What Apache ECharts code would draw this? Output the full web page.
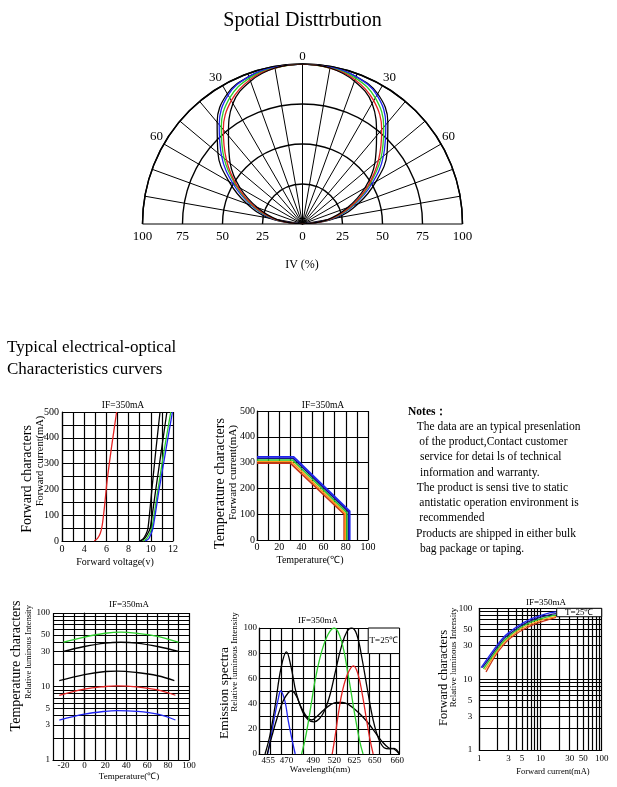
<!DOCTYPE html>
<html><head><meta charset="utf-8">
<script src="https://cdn.jsdelivr.net/npm/echarts@6/dist/echarts.min.js"></script>
<style>html,body{margin:0;padding:0;background:#fff}#c{width:617px;height:787px}</style>
</head><body><div id="c"></div>
<script>
const SERIF = '"Liberation Serif","Times New Roman",serif';

// ---------- Spatial distribution (polar): angle (deg) vs IV (%) ----------
const polarAngles  = [-90,-80,-70,-60,-50,-40,-30,-20,-10,0,10,20,30,40,50,60,70,80,90];
const ivBlackOuter = [0,21,37,53,69,83,94,98,99.5,100,99.5,98,94,83,69,53,37,21,0];
const ivBlue       = [0,19,34,50,66,81,93,98,99.5,100,99.5,98,93,81,66,50,34,19,0];
const ivGreen      = [0,18,33,48,64,79,91,97,99,100,99,97,91,79,64,48,33,18,0];
const ivRed        = [0,17,32,47,62,77,89,96,99,100,99,96,89,77,62,47,32,17,0];
const ivBlackInner = [0,16,30,45,59,72,87,95,99,100,99,95,87,72,59,45,30,16,0];

// ---------- Forward characters: voltage (V) vs current (mA) ----------
const fvRed    = [[4.9,0],[5.2,10],[5.45,30],[5.62,60],[5.82,130],[6.08,240],[6.45,360],[6.92,500]];
const fvBlack1 = [[9.0,0],[9.3,8],[9.55,25],[9.75,50],[10.1,200],[10.45,350],[10.83,500]];
const fvBlack2 = [[9.1,0],[9.45,10],[9.72,28],[9.95,50],[10.45,200],[10.95,350],[11.45,500]];
const fvGreen  = [[9.3,0],[9.6,8],[9.85,25],[10.1,50],[10.65,200],[11.2,350],[11.8,500]];
const fvBlue   = [[9.5,0],[9.8,8],[10.0,25],[10.2,50],[10.75,200],[11.35,350],[11.95,500]];

// ---------- Temperature characters: temperature vs forward current ----------
const tdBlue   = [[0,322],[33,322],[83.5,112],[83.5,0]];
const tdNavy   = [[0,317],[32.5,317],[82.5,109],[82.5,0]];
const tdGreen  = [[0,310],[32,310],[81,106],[81,0]];
const tdOrange = [[0,304],[31,304],[79.5,103],[79.5,0]];
const tdRed    = [[0,298],[30,298],[78.5,100],[78.5,0]];

// ---------- Temperature characters: temperature vs relative intensity ----------
const tlGreen   = [[-20,40],[0,47],[20,53],[35,55],[50,53],[70,48],[90,40]];
const tlBlackHi = [[-20,30],[0,35],[20,39],[35,40],[50,39],[70,35],[90,30]];
const tlBlackLo = [[-24,12],[0,14.5],[20,16],[31,16.2],[50,15.5],[70,14],[86,12]];
const tlRed     = [[-24,7.6],[0,9.2],[20,10],[31,10.2],[50,9.9],[70,9],[87,7.6]];
const tlBlue    = [[-24,3.5],[0,4.2],[20,4.6],[31,4.7],[50,4.6],[70,4.2],[87,3.5]];

// ---------- Emission spectra (x in grid-cell units, labelled by wavelength) ----------
const esTickPos  = [0.85, 2.5, 4.94, 6.85, 8.67, 10.55, 12.6];
const esTickText = ['455','470','490','520','625','650','660'];
const esBlue   = [[0.79,0],[1.1,14],[1.45,31],[1.76,44],[1.97,50],[2.36,42],[2.67,26],[2.97,13],[3.3,0]];
const esBlackA = [[0.55,0],[1.0,15],[1.5,40],[2.0,68],[2.5,81],[2.9,70],[3.4,48],[4.0,33],[4.5,27],[5.0,25.5],[5.5,28],[6.0,35],[6.5,48],[7.0,67],[7.5,85],[8.0,97],[8.45,100],[8.9,95],[9.4,75],[9.9,50],[10.4,27],[10.9,12],[11.4,5],[11.9,4],[12.3,4.5],[12.8,0]];
const esBlackB = [[0.75,0],[1.2,15],[1.7,30],[2.2,42],[2.7,49],[3.0,50],[3.4,46],[3.9,36],[4.4,29],[4.8,27],[5.3,30],[5.9,35],[6.5,39],[7.1,41],[7.6,41],[8.2,39],[8.8,35],[9.4,30],[10.0,24],[10.6,17],[11.2,10],[11.8,5],[12.3,4],[12.8,0]];
const esGreen  = [[3.88,0],[4.3,16],[4.8,42],[5.1,58],[5.7,81],[6.3,95],[6.85,100],[7.5,90],[8.12,63],[8.73,31],[9.18,10],[9.48,0]];
const esRed    = [[6.67,0],[6.95,15],[7.25,33],[7.6,50],[8.1,64],[8.6,70],[9.0,64],[9.4,48],[9.8,27],[10.1,12],[10.4,0]];

// ---------- Forward characters: forward current (mA) vs relative intensity ----------
const fiBlue   = [[1.07,14.5],[1.5,22],[2,31],[2.5,39],[3,45],[4,54],[5,61],[7,71],[10,79],[14,86],[18,89]];
const fiNavy   = [[1.12,14.5],[1.5,20.5],[2,29],[2.5,37],[3,42.5],[4,51],[5,58],[7,67],[10,75],[14,81],[18,84]];
const fiGreen  = [[1.17,14],[1.5,19],[2,27],[2.5,34.5],[3,40],[4,48.5],[5,55],[7,64],[10,71],[14,77],[18,80]];
const fiOrange = [[1.23,13.5],[1.5,17.5],[2,25.5],[2.5,32.5],[3,38],[4,46],[5,52],[7,60],[10,67.5],[14,73],[18,77]];
const fiRed    = [[1.29,12.6],[1.5,16],[2,24],[2.5,30.5],[3,36],[4,43.5],[5,49],[7,57],[10,64],[14,70],[18,74.5]];

// log grid lines and labelled values
const logGrid   = [1,2,3,4,5,6,7,8,9,10,20,30,40,50,60,70,80,90,100];
const logLabels = [1,3,5,10,30,50,100];

const notesLines = [
  ['Notes：', 408, true],
  ['The data are an typical presenlation', 416.7],
  ['of the product,Contact customer', 419.3],
  ['service for detai ls of technical', 420],
  ['information and warranty.', 420],
  ['The product is sensi tive to static', 416.7],
  ['antistatic operation environment is', 419.3],
  ['recommended', 419.3],
  ['Products are shipped in either bulk', 416],
  ['bag package or taping.', 420]
];

// ================= build option =================
const LW = 1.2;
const gridLine = {show:true, lineStyle:{color:'#000', width:LW}};
const axLine = {show:true, lineStyle:{color:'#000', width:LW}};
const noTick = {show:false};
function lbl(size, margin, fmt, extra){
  const o = {color:'#000', fontFamily:SERIF, fontSize:size, margin:margin};
  if (fmt) o.formatter = fmt;
  return Object.assign(o, extra||{});
}

function logLines(items, labelOpt){
  return {
    silent:true, symbol:'none', animation:false, z:1,
    lineStyle:{color:'#000', width:LW, type:'solid'},
    emphasis:{disabled:true},
    label:{show:false},
    data: items.map(function(it){
      const key = it[0], v = it[1];
      const o = {}; o[key] = v;
      o.label = logLabels.indexOf(v) >= 0
        ? Object.assign({show:true, position:'start', formatter:String(v), color:'#000', fontFamily:SERIF}, labelOpt[key])
        : {show:false};
      return o;
    })
  };
}

// legend box drawn through the axes' own scales
function legendBox(idx, corners, text){
  return {type:'custom', xAxisIndex:idx, yAxisIndex:idx, z:4, silent:true,
    data:[corners], encode:{x:[0,2], y:[1,3]},
    renderItem: function(params, api){
      const p0 = api.coord([api.value(0), api.value(1)]);
      const p1 = api.coord([api.value(2), api.value(3)]);
      const x = Math.min(p0[0],p1[0]), y = Math.min(p0[1],p1[1]);
      const w = Math.abs(p1[0]-p0[0]), h = Math.abs(p1[1]-p0[1]);
      return {type:'group', children:[
        {type:'rect', shape:{x:x, y:y, width:w, height:h}, style:{fill:'#fff', stroke:'#000', lineWidth:1}},
        {type:'text', x:x+w/2, y:y+h/2, style:{text:text, fill:'#000', font:'9px '+SERIF, align:'center', verticalAlign:'middle'}}
      ]};
    }};
}

const grids = [
  {left:62, top:412, width:111, height:129},
  {left:257, top:411, width:111, height:129},
  {left:53, top:613, width:136, height:147},
  {left:259, top:628, width:140.5, height:126},
  {left:479.3, top:608.3, width:122.4, height:141.7},
  {left:142.5, top:200, width:320, height:24}
].map(g => Object.assign({outerBoundsMode:'none', containLabel:false}, g));

const xAxes = [
  {gridIndex:0, type:'value', min:2, max:12, interval:1, axisLine:axLine, axisTick:noTick, splitLine:gridLine,
   axisLabel: lbl(10, 3, v => v===2 ? '0' : (v%2===0 ? String(v) : ''))},
  {gridIndex:1, type:'value', min:0, max:100, interval:10, axisLine:axLine, axisTick:noTick, splitLine:gridLine,
   axisLabel: lbl(10, 2, v => v%20===0 ? String(v) : '')},
  {gridIndex:2, type:'value', min:-30, max:100, interval:10, axisLine:axLine, axisTick:noTick, splitLine:gridLine,
   axisLabel: lbl(9, 1, v => v%20===0 ? String(v) : '')},
  {gridIndex:3, type:'value', min:0, max:12.8, interval:1, axisLine:axLine, axisTick:noTick, splitLine:gridLine,
   axisLabel: lbl(9, 2, v => { const i = esTickPos.indexOf(v); return i>=0 ? esTickText[i] : ''; }, {customValues: esTickPos})},
  {gridIndex:4, type:'log', logBase:10, min:1, max:100, axisLine:axLine, axisTick:noTick, splitLine:{show:false}, axisLabel:{show:false}},
  {gridIndex:5, type:'value', min:-100, max:100, interval:25, axisLine:{show:false}, axisTick:noTick, splitLine:{show:false},
   axisLabel: lbl(13, 6, v => String(Math.abs(v)))}
];
const yAxes = [
  {gridIndex:0, type:'value', min:0, max:500, interval:50, axisLine:axLine, axisTick:noTick, splitLine:gridLine,
   axisLabel: lbl(10, 3, v => v%100===0 ? String(v) : '')},
  {gridIndex:1, type:'value', min:0, max:500, interval:100, axisLine:axLine, axisTick:noTick, splitLine:gridLine,
   axisLabel: lbl(10, 2)},
  {gridIndex:2, type:'log', logBase:10, min:1, max:100, axisLine:axLine, axisTick:noTick, splitLine:{show:false}, axisLabel:{show:false}},
  {gridIndex:3, type:'value', min:0, max:100, interval:10, axisLine:axLine, axisTick:noTick, splitLine:gridLine,
   axisLabel: lbl(9, 2, v => v%20===0 ? String(v) : '')},
  {gridIndex:4, type:'log', logBase:10, min:1, max:100, axisLine:axLine, axisTick:noTick, splitLine:{show:false}, axisLabel:{show:false}},
  {gridIndex:5, type:'value', show:false, min:0, max:1}
];

function ln(idx, data, color, smooth, width){
  return {type:'line', xAxisIndex:idx, yAxisIndex:idx, data:data, smooth:smooth, showSymbol:false, symbol:'none', z:3,
    silent:true, lineStyle:{color:color, width:width||1.3}, itemStyle:{color:color}};
}
function pl(vals, color){
  return {type:'line', coordinateSystem:'polar', data: polarAngles.map((a,i)=>[vals[i], a]), smooth:0.4,
    showSymbol:false, symbol:'none', silent:true, z:3, lineStyle:{color:color, width:1.3}, itemStyle:{color:color}};
}

const BLUE='#1f24f0', GREEN='#2bcc2b', RED='#e32222', BLACK='#000', NAVY='#17177e', ORANGE='#ff9a1a';

const series = [
  pl(ivBlackOuter, BLACK), pl(ivBlue, BLUE), pl(ivGreen, GREEN), pl(ivRed, RED), pl(ivBlackInner, BLACK),

  ln(0, fvRed, RED, 0.2), ln(0, fvBlack1, BLACK, 0.2), ln(0, fvBlack2, BLACK, 0.2), ln(0, fvGreen, GREEN, 0.2), ln(0, fvBlue, BLUE, 0.2),

  ln(1, tdRed, '#c8321a', false, 1.6), ln(1, tdOrange, ORANGE, false, 1.6), ln(1, tdGreen, GREEN, false, 1.6), ln(1, tdNavy, NAVY, false, 1.6), ln(1, tdBlue, BLUE, false, 1.8),

  {type:'line', xAxisIndex:2, yAxisIndex:2, data:[], z:1, silent:true,
   markLine: logLines(logGrid.map(v=>['yAxis',v]), {yAxis:{fontSize:9, distance:3}})},
  ln(2, tlGreen, GREEN, 0.4), ln(2, tlBlackHi, BLACK, 0.4), ln(2, tlBlackLo, BLACK, 0.4), ln(2, tlRed, RED, 0.4), ln(2, tlBlue, BLUE, 0.4),

  legendBox(3, [9.95, 79.7, 12.8, 100], 'T=25℃'),
  ln(3, esBlue, BLUE, 0.4), ln(3, esBlackA, BLACK, 0.4), ln(3, esBlackB, BLACK, 0.4), ln(3, esGreen, GREEN, 0.4), ln(3, esRed, RED, 0.4),

  {type:'line', xAxisIndex:4, yAxisIndex:4, data:[], z:1, silent:true,
   markLine: logLines(logGrid.map(v=>['xAxis',v]).concat(logGrid.map(v=>['yAxis',v])),
     {xAxis:{fontSize:9, distance:4}, yAxis:{fontSize:9, distance:7}})},
  legendBox(4, [18.4, 76, 100, 100], 'T=25℃'),
  ln(4, fiRed, '#c8321a', 0.4), ln(4, fiOrange, ORANGE, 0.4), ln(4, fiGreen, GREEN, 0.4), ln(4, fiNavy, NAVY, 0.4), ln(4, fiBlue, BLUE, 0.4)
];

// free-standing texts
const R = Math.PI/2;
function T(text, x, y, size, align, rot, weight){
  return {type:'text', x:x, y:y, rotation: rot||0, silent:true, z:10,
    style:{text:text, fill:'#000', font:(weight||'normal')+' '+size+'px '+SERIF, align:align||'center', verticalAlign:'middle'}};
}
const graphics = [
  T('Spotial Disttrbution', 302.5, 21, 20),
  T('IV (%)', 302, 265, 12),
  T('Typical electrical-optical', 7, 348, 17, 'left'),
  T('Characteristics curvers', 7, 370, 17, 'left'),
  T('IF=350mA', 123, 405, 9.5), T('IF=350mA', 323, 405, 9.5), T('IF=350mA', 129, 605, 9),
  T('IF=350mA', 318, 621, 9), T('IF=350mA', 546, 603, 9),
  T('Forward characters', 27, 479, 14, 'center', R),
  T('Forward current(mA)', 40, 461, 10.5, 'center', R),
  T('Forward voltage(v)', 115, 562, 10),
  T('Temperature characters', 220, 483.5, 14, 'center', R),
  T('Forward current(mA)', 233, 472.5, 11, 'center', R),
  T('Temperature(℃)', 310, 560, 10),
  T('Temperature characters', 16, 666, 14, 'center', R),
  T('Relative luminous Intensity', 29, 652, 8.5, 'center', R),
  T('Temperature(℃)', 129, 777, 9),
  T('Emission spectra', 224, 693, 13.5, 'center', R),
  T('Relative luminous Intensity', 234.5, 662, 9, 'center', R),
  T('Wavelength(nm)', 320, 770, 9),
  T('Forward characters', 443.5, 678, 12.5, 'center', R),
  T('Relative luminous Intensity', 453.5, 657.5, 9, 'center', R),
  T('Forward current(mA)', 553, 772, 8.5)
].concat(notesLines.map((l, i) => T(l[0], l[1], 411.7 + i*15.25, 11.5, 'left', 0, l[2] ? 'bold' : 'normal')));

const option = {
  animation:false,
  backgroundColor:'#fff',
  grid: grids,
  xAxis: xAxes,
  yAxis: yAxes,
  polar: {center:[302.5, 224], radius:160},
  angleAxis: {type:'value', min:-90, max:90, interval:10, startAngle:180, endAngle:0, clockwise:true,
    axisLine:{show:true, lineStyle:{color:'#000', width:1.4}}, axisTick:{show:false},
    splitLine:{show:true, lineStyle:{color:'#000', width:1}},
    axisLabel:{color:'#000', fontFamily:SERIF, fontSize:13, margin:1,
      formatter: v => (Math.abs(v)%30===0 && Math.abs(v)!==90) ? String(Math.abs(v)) : ''}},
  radiusAxis: {type:'value', min:0, max:100, interval:25, axisLine:{show:false}, axisTick:{show:false},
    axisLabel:{show:false}, splitLine:{show:true, lineStyle:{color:'#000', width:1.4}}},
  series: series,
  graphic: graphics
};

const chart = echarts.init(document.getElementById('c'), null, {renderer:'canvas', width:617, height:787});
chart.setOption(option);
</script>
</body></html>
